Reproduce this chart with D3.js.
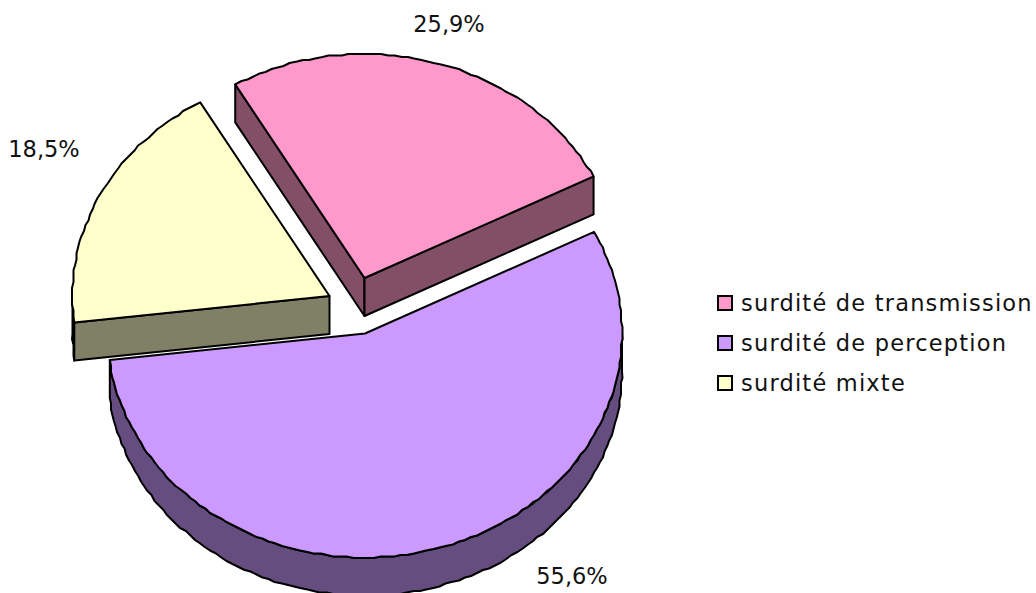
<!DOCTYPE html>
<html><head><meta charset="utf-8">
<script src="https://cdn.jsdelivr.net/npm/d3@7/dist/d3.min.js"></script>
<style>html,body{margin:0;padding:0;background:#fff}svg{display:block}text{font-family:"DejaVu Sans",sans-serif;fill:#111}</style>
</head><body><svg id="c" width="1036" height="593"></svg>
<script>
const categories=["surdité de transmission","surdité de perception","surdité mixte"];
const values=[25.9,55.6,18.5];
const valueLabels=["25,9%","55,6%","18,5%"];
const colors=["#FF99CC","#CC99FF","#FFFFCC"];
const sideColors=["#824F66","#664D80","#808066"];
const W=1036,H=593;
const svg=d3.select("#c");
const tau=Math.PI*2;
const rx=257, ry=224, depth=38;
const centers=[[364.5,278],[365,333.5],[329.5,296]];
const labelPos=[[449,32],[572,584],[44,157]];
const pie=d3.pie().sort(null).startAngle(-30.2/360*tau).endAngle(329.8/360*tau);
const arcs=pie(values);
const sx=d3.scaleLinear().domain([-1,1]);
const sy=d3.scaleLinear().domain([-1,1]);
const snap=v=>Math.round(v/1.5)*1.5;
const line=d3.line();
function outer(i,a0,a1,dy){
  const [cx,cy]=centers[i];
  sx.range([cx-rx,cx+rx]); sy.range([cy-ry,cy+ry]);
  const n=Math.max(2,Math.ceil((a1-a0)/(1.5/360*tau)));
  return d3.range(n+1).map(k=>{
    const a=a0+(a1-a0)*k/n;
    const edge=(k===0||k===n);
    const x=sx(Math.sin(a)),y=sy(-Math.cos(a))+dy;
    return edge?[x,y]:[snap(x),snap(y)];
  });
}
const g=svg.append("g").attr("stroke","#000").attr("stroke-width",2).attr("stroke-linejoin","round");
function slice(i){
  const d=arcs[i],c=centers[i];
  const lo=Math.max(d.startAngle,Math.PI/2), hi=Math.min(d.endAngle,Math.PI*1.5);
  if(hi>lo){
    const top=outer(i,lo,hi,0), bot=outer(i,lo,hi,depth).reverse();
    g.append("path").attr("d",line(top.concat(bot))+"Z").attr("fill",sideColors[i]);
  }
  const rim=outer(i,d.startAngle,d.endAngle,0);
  const first=rim[0],last=rim[rim.length-1];
  if(i===0){
    g.append("path").attr("d",line([first,c,[c[0],c[1]+depth],[first[0],first[1]+depth]])+"Z").attr("fill",sideColors[i]);
    g.append("path").attr("d",line([c,last,[last[0],last[1]+depth],[c[0],c[1]+depth]])+"Z").attr("fill",sideColors[i]);
  }
  if(i===2){
    g.append("path").attr("d",line([first,c,[c[0],c[1]+depth],[first[0],first[1]+depth]])+"Z").attr("fill",sideColors[i]);
  }
  g.append("path").attr("d",line([c].concat(rim))+"Z").attr("fill",colors[i]);
}
slice(1);slice(2);slice(0);
svg.selectAll("text.val").data(valueLabels).join("text").attr("class","val")
  .attr("x",(d,i)=>labelPos[i][0]).attr("y",(d,i)=>labelPos[i][1])
  .attr("text-anchor","middle").attr("font-size",22.5).text(d=>d);
const ly=d3.scalePoint().domain(categories).range([311,391]);
const lg=svg.append("g");
lg.selectAll("rect").data(categories).join("rect")
  .attr("x",718).attr("y",d=>ly(d)-15).attr("width",14).attr("height",14)
  .attr("fill",(d,i)=>colors[i]).attr("stroke","#000").attr("stroke-width",2);
lg.selectAll("text").data(categories).join("text")
  .attr("x",741).attr("y",d=>ly(d)).attr("font-size",22.5).attr("letter-spacing",1.2).text(d=>d);
</script></body></html>
